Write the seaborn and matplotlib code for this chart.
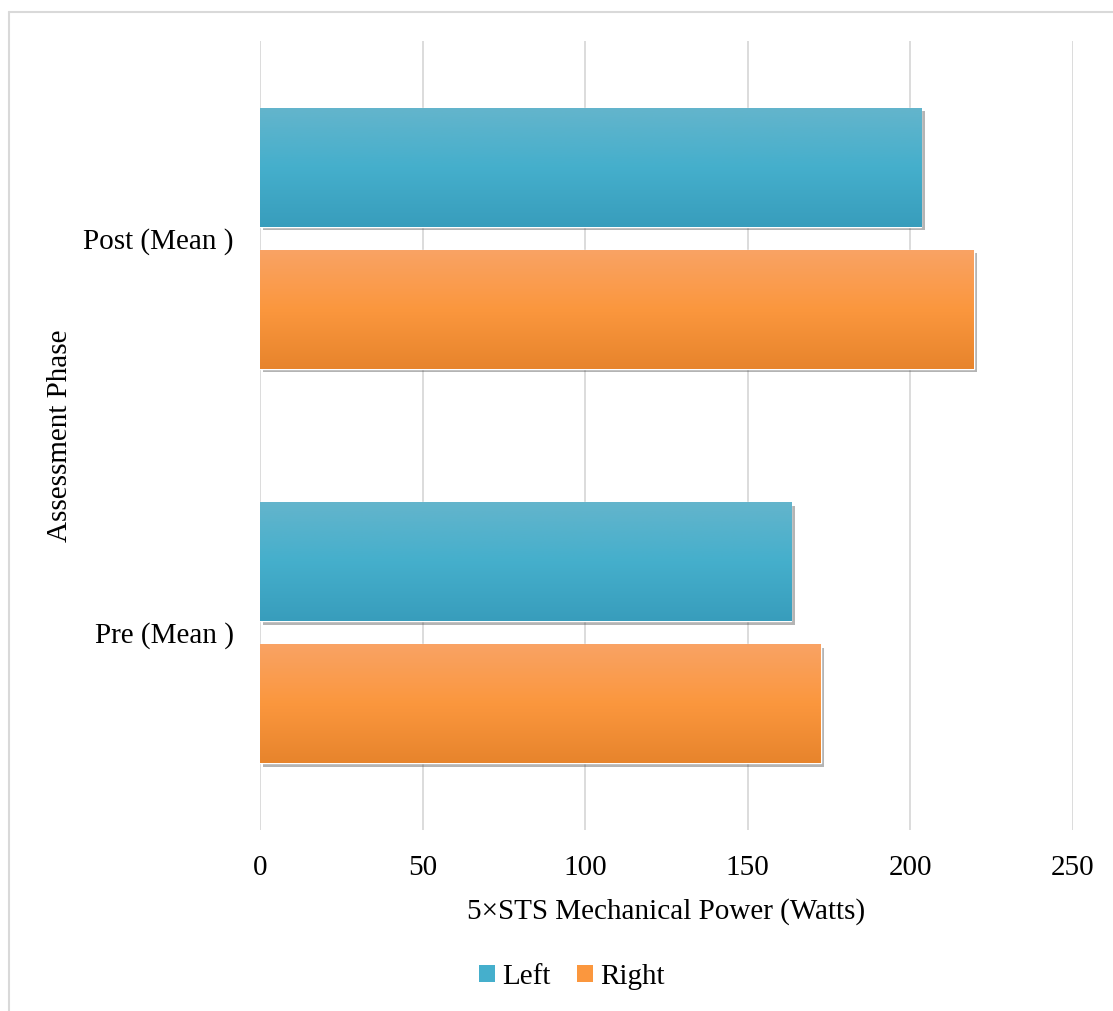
import numpy as np
import pandas as pd
import matplotlib.pyplot as plt
import seaborn as sns
import matplotlib.patheffects as pe
from matplotlib.patches import Patch
from matplotlib.lines import Line2D
from matplotlib.colors import LinearSegmentedColormap

## dados

fases = ["Post (Mean )", "Pre (Mean )"]
lados = ["Left", "Right"]
valores_left = [203.3, 163.3]
valores_right = [219.5, 172.5]

# gradiente estilo Excel: topo, meio, base
cores_grad = {
    "Left": ["#64b5cc", "#45afcc", "#389dbc"],
    "Right": ["#f9a365", "#fb973e", "#e7842c"],
}

df = pd.DataFrame({
    "fase": fases * 2,
    "lado": ["Left"] * len(fases) + ["Right"] * len(fases),
    "watts": valores_left + valores_right,
})

sns.set_style("white")
plt.rcParams['font.family'] = ['Liberation Serif', 'DejaVu Serif']
plt.rcParams['text.color'] = 'black'
plt.rcParams['axes.labelcolor'] = 'black'
plt.rcParams['xtick.color'] = 'black'
plt.rcParams['ytick.color'] = 'black'

fig = plt.figure(figsize=(11.13, 10.11), dpi=100)
ax = fig.add_axes([260 / 1113, 1 - 830 / 1011, 813 / 1113, 789 / 1011])

sns.barplot(
    data=df,
    x="watts",
    y="fase",
    hue="lado",
    order=fases,
    hue_order=lados,
    palette={k: v[1] for k, v in cores_grad.items()},
    width=0.72,
    gap=0.16,
    orient="h",
    legend=False,
    ax=ax
)

## pintando gradiente + sombra em cada barra

for lado, cont in zip(lados, ax.containers):
    cmap = LinearSegmentedColormap.from_list("g_" + lado, cores_grad[lado])
    grad = np.linspace(0, 1, 256).reshape(-1, 1)
    for bar in cont:
        bar.set_path_effects([
            pe.SimplePatchShadow(offset=(2.5, -2.5), shadow_rgbFace="#444444", alpha=0.4),
            pe.Normal()
        ])
        x0, y0 = bar.get_x(), bar.get_y()
        w, h = bar.get_width(), bar.get_height()
        im = ax.imshow(
            grad, cmap=cmap, extent=(x0, x0 + w, y0 + h, y0),
            origin="upper", aspect="auto", interpolation="bicubic",
            zorder=bar.get_zorder() + 0.1
        )
        im.set_clip_path(bar)

ax.set_xlim(0, 250)
ax.set_ylim(1.5, -0.5)
ax.set_xticks(range(0, 251, 50))
ax.grid(axis="x", color="#d9d9d9", linewidth=1.3)
ax.grid(axis="y", visible=False)
ax.set_axisbelow(True)
sns.despine(ax=ax, left=True, bottom=True)

ax.tick_params(axis="both", length=0, labelsize=21)
ax.tick_params(axis="x", pad=18)
ax.tick_params(axis="y", pad=19)

ax.set_xlabel("5×STS Mechanical Power (Watts)", fontsize=21, labelpad=12)
ax.set_ylabel("Assessment Phase", fontsize=21, labelpad=7)

handles = [Patch(facecolor=cores_grad[l][1], edgecolor="none") for l in lados]
fig.legend(
    handles, lados,
    loc="center",
    bbox_to_anchor=(572 / 1113, 1 - 977 / 1011),
    ncol=2,
    frameon=False,
    fontsize=21,
    handlelength=0.55,
    handleheight=0.55,
    handletextpad=0.25,
    columnspacing=0.9
)

## borda do gráfico
fig.add_artist(Line2D([9 / 1113, 1], [1 - 12 / 1011, 1 - 12 / 1011], color="#d9d9d9", lw=1.5))
fig.add_artist(Line2D([9 / 1113, 9 / 1113], [0, 1 - 12 / 1011], color="#d9d9d9", lw=1.5))

fig.savefig("out.png", dpi=100)
